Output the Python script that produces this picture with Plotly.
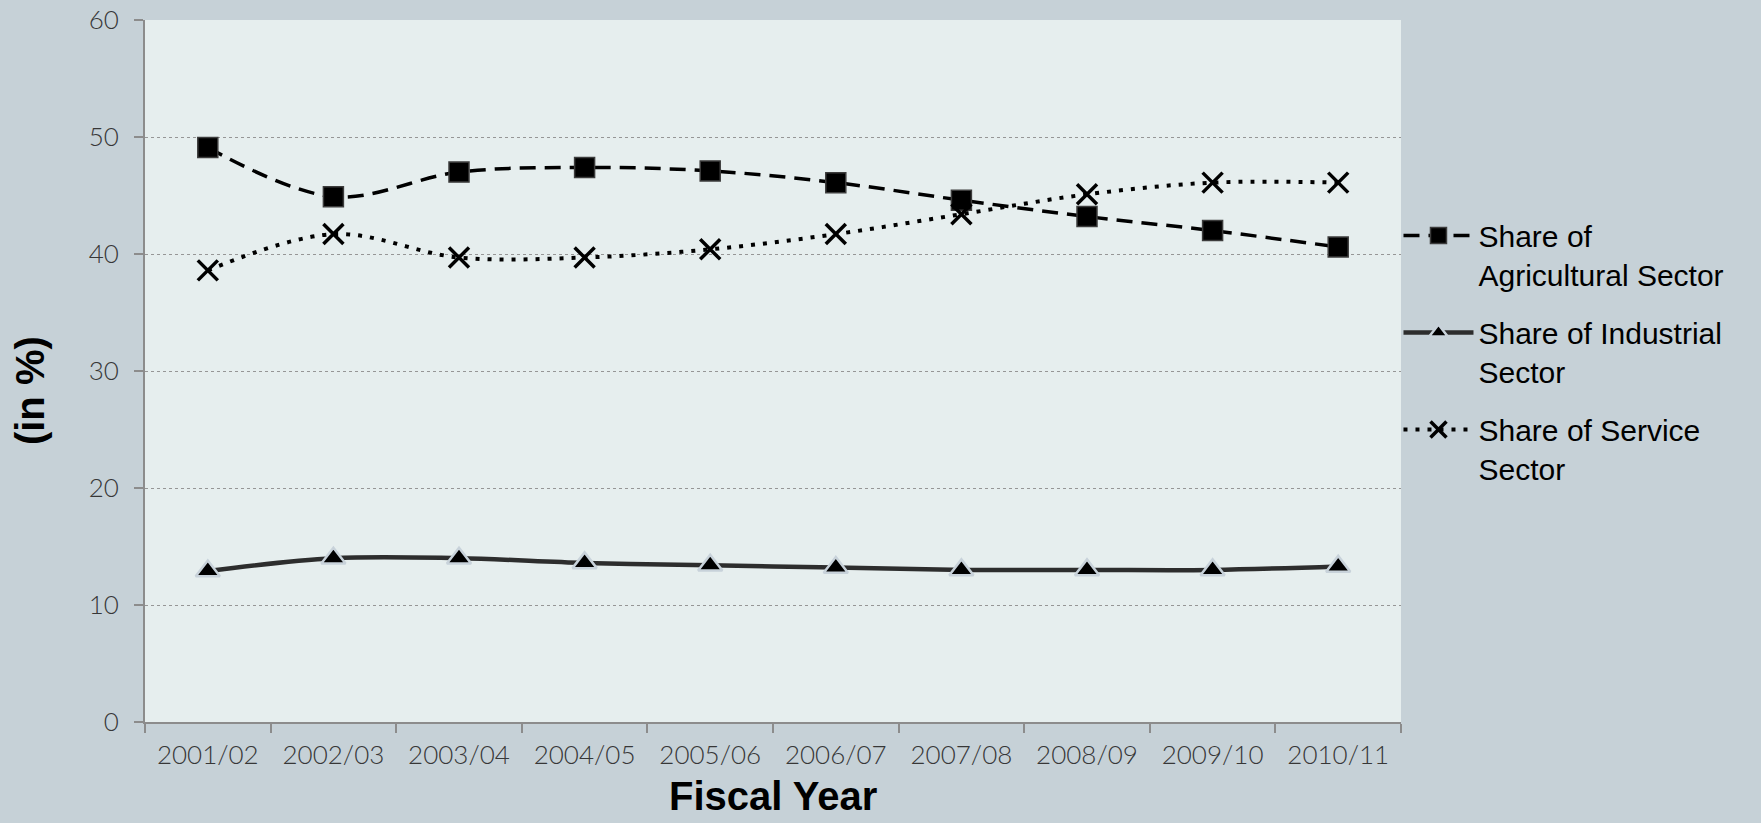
import plotly.graph_objects as go

# Fiscal years on the category axis
years = ["2001/02", "2002/03", "2003/04", "2004/05", "2005/06",
         "2006/07", "2007/08", "2008/09", "2009/10", "2010/11"]

# Sector shares of GDP (in %)
agriculture = [49.1, 44.9, 47.0, 47.4, 47.1, 46.1, 44.6, 43.2, 42.0, 40.6]
industry = [12.9, 14.0, 14.0, 13.6, 13.4, 13.2, 13.0, 13.0, 13.0, 13.3]
services = [38.6, 41.7, 39.7, 39.7, 40.4, 41.7, 43.4, 45.1, 46.1, 46.1]

y_ticks = [0, 10, 20, 30, 40, 50, 60]

PAPER_BG = "rgb(198,209,215)"
PLOT_BG = "rgb(230,238,238)"
AXIS_GREY = "rgb(140,140,140)"
TICK_FONT = dict(family="Lato", size=26, color="rgb(55,55,55)", weight=300)

fig = go.Figure()

fig.add_trace(go.Scatter(
    x=years, y=agriculture, name="Share of<br>Agricultural Sector",
    mode="lines+markers", legendgroup="a",
    line=dict(color="black", width=3.5, dash="16px,9px", shape="spline", smoothing=1),
    marker=dict(symbol="square", size=20, color="black",
                line=dict(color="rgb(60,60,60)", width=1.5)),
))
fig.add_trace(go.Scatter(
    x=years, y=industry, name="Share of Industrial<br>Sector",
    mode="lines+markers", legendgroup="b",
    line=dict(color="rgb(45,45,45)", width=4.5, shape="spline", smoothing=1),
    marker=dict(symbol="triangle-up", size=21, color="black",
                line=dict(color="rgb(200,210,218)", width=2.5)),
))
fig.add_trace(go.Scatter(
    x=years, y=services, name="Share of Service<br>Sector",
    mode="lines+markers", legendgroup="c",
    line=dict(color="black", width=4, dash="4px,8px", shape="spline", smoothing=1),
    marker=dict(symbol="x-thin", size=20, color="black",
                line=dict(color="black", width=3.5)),
))

fig.update_layout(
    width=1761, height=823,
    paper_bgcolor=PAPER_BG, plot_bgcolor=PLOT_BG,
    margin=dict(l=145, r=360, t=20, b=101, autoexpand=False),
    font=dict(family="Liberation Sans, Arial", color="black"),
    showlegend=True,
    legend=dict(
        x=0.998, xanchor="left", y=0.73, yanchor="top",
        font=dict(family="Liberation Sans, Arial", size=30, color="black"),
        bgcolor="rgba(0,0,0,0)", valign="top", itemwidth=70,
        tracegroupgap=16,
    ),
    xaxis=dict(
        type="category", range=[-0.5, 9.5],
        showgrid=False, showline=True, linecolor=AXIS_GREY, linewidth=2,
        ticks="outside", tickson="boundaries", ticklen=9, tickcolor=AXIS_GREY, tickwidth=2,
        tickfont=TICK_FONT, ticklabelstandoff=9,
    ),
    yaxis=dict(
        range=[0, 60], tickvals=y_ticks,
        showgrid=True, gridcolor="rgb(150,150,150)", griddash="dot", gridwidth=1,
        showline=True, linecolor=AXIS_GREY, linewidth=2,
        ticks="outside", ticklen=9, tickcolor=AXIS_GREY, tickwidth=2,
        tickfont=TICK_FONT, ticklabelstandoff=10, zeroline=False,
    ),
    annotations=[
        dict(text="<b>Fiscal Year</b>", xref="paper", yref="paper",
             x=0.5, y=-0.139, xanchor="center", yanchor="bottom", showarrow=False,
             font=dict(family="Liberation Sans, Arial", size=40, color="black")),
        dict(text="<b>(in %)</b>", xref="paper", yref="paper",
             x=-0.092, y=0.472, xanchor="center", yanchor="middle", showarrow=False,
             textangle=-90,
             font=dict(family="Liberation Sans, Arial", size=40, color="black")),
    ],
)

fig.write_html("out.html")
